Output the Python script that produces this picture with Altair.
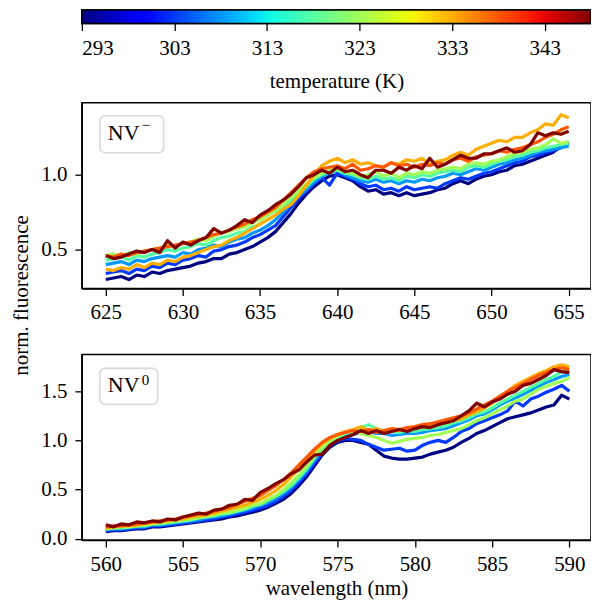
import altair as alt
import pandas as pd
import numpy as np

# ---------------- data ----------------
temps = [293, 303, 308, 318, 323, 333, 338, 348]
cbar_ticks = [293, 303, 313, 323, 333, 343]
cbar_range = [293, 348]

wl_nvm = [round(625 + 0.5 * i, 1) for i in range(61)]
wl_nv0 = [round(560 + 0.5 * i, 1) for i in range(61)]

nvm = {
    293: [0.30,0.31,0.32,0.30,0.33,0.32,0.35,0.34,0.36,0.37,
          0.38,0.39,0.41,0.42,0.44,0.44,0.47,0.48,0.50,0.52,
          0.55,0.58,0.62,0.68,0.74,0.81,0.87,0.92,0.96,0.99,
          1.00,0.98,0.96,0.92,0.89,0.90,0.87,0.88,0.86,0.88,
          0.86,0.87,0.88,0.90,0.91,0.94,0.96,0.94,0.97,0.99,
          1.00,1.02,1.03,1.06,1.07,1.09,1.11,1.13,1.15,1.19,
          1.22],
    303: [0.34,0.35,0.36,0.34,0.37,0.36,0.39,0.38,0.41,0.40,
          0.43,0.44,0.46,0.45,0.49,0.50,0.52,0.53,0.55,0.58,
          0.60,0.63,0.66,0.72,0.78,0.84,0.89,0.94,0.98,0.93,
          1.01,0.99,0.97,0.94,0.92,0.93,0.90,0.91,0.89,0.92,
          0.90,0.91,0.92,0.91,0.94,0.96,0.98,0.97,0.99,1.01,
          1.02,1.04,1.06,1.08,1.09,1.12,1.13,1.15,1.16,1.18,
          1.21],
    308: [0.40,0.41,0.42,0.40,0.43,0.42,0.44,0.45,0.46,0.45,
          0.48,0.47,0.50,0.51,0.53,0.52,0.55,0.57,0.58,0.61,
          0.63,0.66,0.70,0.75,0.81,0.86,0.90,0.95,0.99,1.01,
          1.03,1.00,0.98,0.96,0.95,0.97,0.95,0.96,0.94,0.96,
          0.95,0.97,0.96,0.98,0.99,1.01,1.00,1.02,1.04,1.03,
          1.05,1.07,1.08,1.10,1.11,1.13,1.15,1.16,1.17,1.18,
          1.19],
    318: [0.43,0.44,0.45,0.43,0.46,0.45,0.47,0.48,0.50,0.49,
          0.51,0.52,0.54,0.53,0.56,0.58,0.59,0.61,0.62,0.65,
          0.67,0.70,0.73,0.78,0.83,0.88,0.92,0.97,1.00,1.02,
          1.03,1.01,1.00,0.98,0.97,0.99,0.97,0.98,0.96,0.99,
          0.98,1.00,0.99,1.01,1.02,1.03,1.02,1.05,1.06,1.05,
          1.07,1.09,1.10,1.12,1.13,1.15,1.16,1.18,1.19,1.20,
          1.21],
    323: [0.46,0.47,0.45,0.48,0.47,0.49,0.50,0.51,0.53,0.52,
          0.54,0.55,0.57,0.56,0.59,0.61,0.62,0.64,0.65,0.68,
          0.70,0.73,0.76,0.80,0.85,0.89,0.94,0.98,1.01,1.03,
          1.04,1.02,1.01,0.99,1.00,1.02,0.99,1.01,0.98,1.01,
          1.00,1.02,1.01,1.03,1.04,1.05,1.04,1.07,1.08,1.07,
          1.09,1.10,1.12,1.14,1.15,1.17,1.18,1.20,1.24,1.21,
          1.22],
    333: [0.37,0.36,0.38,0.37,0.40,0.38,0.41,0.40,0.43,0.42,
          0.45,0.46,0.48,0.50,0.52,0.53,0.56,0.58,0.61,0.64,
          0.67,0.70,0.73,0.77,0.80,0.86,0.93,1.00,1.06,1.09,
          1.11,1.08,1.10,1.07,1.08,1.06,1.05,1.08,1.07,1.10,
          1.09,1.11,1.07,1.09,1.10,1.13,1.15,1.13,1.17,1.19,
          1.21,1.23,1.22,1.25,1.25,1.28,1.30,1.34,1.33,1.40,
          1.38],
    338: [0.46,0.45,0.47,0.46,0.48,0.49,0.50,0.51,0.52,0.53,
          0.54,0.55,0.56,0.58,0.60,0.61,0.63,0.65,0.67,0.70,
          0.72,0.75,0.78,0.83,0.88,0.93,0.98,1.02,1.04,1.05,
          1.06,1.04,1.07,1.03,1.04,1.06,1.05,1.08,1.06,1.07,
          1.05,1.07,1.06,1.08,1.07,1.10,1.11,1.09,1.12,1.13,
          1.14,1.16,1.15,1.17,1.18,1.20,1.22,1.25,1.27,1.30,
          1.32],
    348: [0.46,0.44,0.45,0.47,0.49,0.48,0.50,0.48,0.56,0.51,
          0.55,0.53,0.56,0.58,0.64,0.61,0.63,0.66,0.70,0.68,
          0.73,0.76,0.80,0.83,0.87,0.92,0.98,1.00,1.03,1.01,
          1.05,1.02,1.03,1.00,0.98,1.03,1.03,1.01,1.05,1.03,
          1.06,1.04,1.11,1.05,1.07,1.10,1.13,1.11,1.11,1.14,
          1.14,1.16,1.18,1.15,1.16,1.20,1.28,1.26,1.28,1.27,
          1.29],
}

nv0 = {
    293: [0.07,0.08,0.08,0.09,0.10,0.10,0.12,0.12,0.13,0.14,
          0.15,0.16,0.17,0.18,0.19,0.20,0.22,0.23,0.25,0.27,
          0.29,0.32,0.36,0.40,0.46,0.54,0.63,0.74,0.85,0.93,
          0.98,1.00,1.00,0.98,0.96,0.90,0.84,0.82,0.81,0.81,
          0.82,0.83,0.86,0.88,0.90,0.93,0.98,1.02,1.07,1.10,
          1.14,1.18,1.22,1.24,1.26,1.28,1.31,1.34,1.36,1.46,
          1.42],
    303: [0.08,0.09,0.09,0.10,0.11,0.11,0.13,0.13,0.14,0.15,
          0.16,0.17,0.18,0.19,0.20,0.22,0.23,0.25,0.27,0.29,
          0.31,0.34,0.38,0.43,0.49,0.57,0.66,0.77,0.87,0.95,
          0.99,1.02,1.01,1.00,0.96,0.93,0.90,0.91,0.92,0.89,
          0.90,0.95,0.98,1.00,0.98,1.03,1.09,1.12,1.17,1.20,
          1.23,1.26,1.30,1.40,1.35,1.42,1.45,1.49,1.52,1.56,
          1.50],
    308: [0.09,0.10,0.10,0.11,0.12,0.12,0.14,0.14,0.15,0.16,
          0.17,0.18,0.19,0.21,0.22,0.23,0.25,0.27,0.29,0.31,
          0.34,0.37,0.41,0.46,0.52,0.60,0.69,0.80,0.89,0.96,
          1.00,1.04,1.06,1.08,1.09,1.07,1.07,1.05,1.06,1.07,
          1.07,1.08,1.10,1.11,1.12,1.15,1.18,1.21,1.25,1.27,
          1.31,1.36,1.40,1.43,1.47,1.51,1.55,1.59,1.62,1.65,
          1.67],
    318: [0.10,0.11,0.11,0.12,0.13,0.13,0.15,0.15,0.16,0.17,
          0.18,0.19,0.21,0.22,0.23,0.25,0.26,0.28,0.30,0.33,
          0.35,0.39,0.43,0.48,0.54,0.62,0.71,0.82,0.91,0.98,
          1.03,1.07,1.10,1.13,1.16,1.12,1.10,1.09,1.08,1.10,
          1.09,1.11,1.12,1.13,1.15,1.18,1.20,1.23,1.27,1.29,
          1.33,1.38,1.42,1.46,1.50,1.54,1.58,1.62,1.65,1.70,
          1.69],
    323: [0.10,0.11,0.12,0.12,0.13,0.14,0.15,0.16,0.17,0.18,
          0.19,0.20,0.21,0.23,0.24,0.26,0.27,0.29,0.31,0.34,
          0.36,0.40,0.44,0.50,0.57,0.65,0.74,0.84,0.93,0.99,
          1.04,1.08,1.09,1.07,1.05,1.03,1.00,0.97,0.99,1.01,
          1.02,1.03,1.05,1.06,1.08,1.10,1.12,1.16,1.20,1.23,
          1.27,1.31,1.35,1.40,1.42,1.47,1.52,1.55,1.58,1.60,
          1.64],
    333: [0.11,0.12,0.13,0.13,0.14,0.15,0.16,0.17,0.18,0.19,
          0.20,0.22,0.23,0.24,0.26,0.28,0.30,0.32,0.34,0.37,
          0.40,0.44,0.49,0.55,0.63,0.71,0.80,0.89,0.97,1.02,
          1.06,1.09,1.11,1.14,1.10,1.12,1.09,1.11,1.10,1.12,
          1.13,1.14,1.15,1.17,1.18,1.20,1.22,1.26,1.29,1.33,
          1.38,1.44,1.50,1.56,1.60,1.64,1.68,1.71,1.75,1.77,
          1.75],
    338: [0.12,0.13,0.13,0.14,0.15,0.16,0.17,0.18,0.19,0.20,
          0.22,0.23,0.25,0.26,0.28,0.30,0.32,0.35,0.38,0.41,
          0.44,0.49,0.54,0.60,0.67,0.75,0.83,0.91,0.98,1.03,
          1.06,1.08,1.10,1.09,1.11,1.08,1.10,1.12,1.11,1.13,
          1.14,1.16,1.17,1.19,1.21,1.23,1.25,1.28,1.32,1.36,
          1.40,1.45,1.50,1.54,1.58,1.62,1.66,1.69,1.72,1.74,
          1.72],
    348: [0.14,0.12,0.15,0.14,0.17,0.16,0.18,0.17,0.20,0.19,
          0.22,0.24,0.26,0.25,0.29,0.30,0.34,0.35,0.40,0.39,
          0.47,0.51,0.56,0.60,0.66,0.70,0.78,0.85,0.86,0.95,
          1.00,1.03,1.06,1.10,1.07,1.10,1.07,1.09,1.11,1.09,
          1.12,1.14,1.13,1.16,1.18,1.20,1.25,1.30,1.38,1.34,
          1.39,1.42,1.47,1.50,1.56,1.58,1.62,1.66,1.72,1.70,
          1.69],
}

# ---------------- jet colormap ----------------
def jet(f):
    r = np.interp(f, [0, 0.35, 0.66, 0.89, 1], [0, 0, 1, 1, 0.5])
    g = np.interp(f, [0, 0.125, 0.375, 0.64, 0.91, 1], [0, 0, 1, 1, 0, 0])
    b = np.interp(f, [0, 0.11, 0.34, 0.65, 1], [0.5, 1, 1, 0, 0])
    return "#%02x%02x%02x" % (int(round(r * 255)), int(round(g * 255)), int(round(b * 255)))

t_lo, t_hi = cbar_range
line_colors = [jet((t - t_lo) / (t_hi - t_lo)) for t in temps]
grad_stops = [alt.GradientStop(color=jet(o / 40), offset=o / 40) for o in range(41)]

FONT = "Liberation Serif"


def long_df(wl, series):
    rows = []
    for t in temps:
        for w, v in zip(wl, series[t]):
            rows.append({"wl": w, "v": v, "T": t})
    return pd.DataFrame(rows)


one = pd.DataFrame({"a": [0]})


def panel(df, xdom, xticks, ydom, yticks, xtitle, box, base_y, sup_text, sup_size, sup_y, ylabel=False):
    color = alt.Color("T:O", scale=alt.Scale(domain=temps, range=line_colors), legend=None)
    if xtitle:
        xenc = alt.X("wl:Q", scale=alt.Scale(domain=xdom, nice=False, zero=False),
                     axis=alt.Axis(values=xticks, format="d", title=xtitle, titlePadding=3))
    else:
        xenc = alt.X("wl:Q", scale=alt.Scale(domain=xdom, nice=False, zero=False),
                     axis=alt.Axis(values=xticks, format="d"), title=None)
    lines = alt.Chart(df).mark_line(strokeWidth=3.2, clip=True, strokeJoin="round").encode(
        x=xenc,
        y=alt.Y("v:Q", scale=alt.Scale(domain=ydom, nice=False, zero=False),
                axis=alt.Axis(values=yticks, format=".1f"), title=None),
        color=color,
    )
    rect = alt.Chart(one).mark_rect(
        fill="white", fillOpacity=0.85, stroke="#d9d9d9", strokeWidth=1.6, cornerRadius=5
    ).encode(x=alt.value(box[0]), x2=alt.value(box[1]), y=alt.value(box[2]), y2=alt.value(box[3]))
    t1 = alt.Chart(one).mark_text(text="NV", font=FONT, fontSize=22, align="left",
                                  baseline="alphabetic", color="black").encode(
        x=alt.value(box[0] + 8), y=alt.value(base_y))
    t2 = alt.Chart(one).mark_text(text=sup_text, font=FONT, fontSize=sup_size, align="left",
                                  baseline="alphabetic", color="black").encode(
        x=alt.value(box[0] + 42), y=alt.value(sup_y))
    layers = [lines, rect, t1, t2]
    if ylabel:
        yl = alt.Chart(one).mark_text(text="norm. fluorescence", font=FONT, fontSize=21, angle=270,
                                      align="center", baseline="middle", color="black").encode(
            x=alt.value(-60), y=alt.value(-59))
        layers.append(yl)
    return alt.layer(*layers).properties(width=510, height=186)


top = panel(long_df(wl_nvm, nvm), [623.45, 656.45], [625, 630, 635, 640, 645, 650, 655],
            [0.24, 1.48], [0.5, 1.0], None, (18, 82, 13, 50), 37, "\u2212", 15, 27)
bottom = panel(long_df(wl_nv0, nv0), [558.45, 591.4], [560, 565, 570, 575, 580, 585, 590],
               [-0.015, 1.875], [0.0, 0.5, 1.0, 1.5], "wavelength (nm)", (18, 76, 14, 50), 38,
               "0", 15, 31, ylabel=True)

cbar = alt.Chart(pd.DataFrame({"lo": [cbar_range[0]], "hi": [cbar_range[1]]})).mark_rect(
    fill=alt.LinearGradient(gradient="linear", stops=grad_stops, x1=0, x2=1, y1=0, y2=0),
    stroke="black", strokeWidth=1.3
).encode(
    x=alt.X("lo:Q", scale=alt.Scale(domain=cbar_range, nice=False, zero=False),
            axis=alt.Axis(values=cbar_ticks, format="d", domain=False, title="temperature (K)",
                          titlePadding=12, labelPadding=7)),
    x2="hi",
    y=alt.value(0), y2=alt.value(13.5),
).properties(width=510, height=13.5)

panels = alt.vconcat(top, bottom, spacing=66, bounds="flush")
chart = alt.vconcat(cbar, panels, spacing=79, bounds="flush").properties(
    autosize=alt.AutoSizeParams(type="none"),
    padding={"left": 74, "top": 1.5, "right": 0, "bottom": 590.5}
).configure_axis(
    labelFont=FONT, labelFontSize=21, labelColor="black", titleFont=FONT, titleFontSize=21,
    titleFontWeight="normal", titleColor="black", domainColor="black", domainWidth=1.3,
    tickColor="black", tickWidth=1.3, tickSize=7, labelPadding=6, grid=False
).configure_axisY(labelPadding=8).configure_view(stroke="black", strokeWidth=1.5)

chart.save("out.html", embed_options={"renderer": "svg", "actions": False})
